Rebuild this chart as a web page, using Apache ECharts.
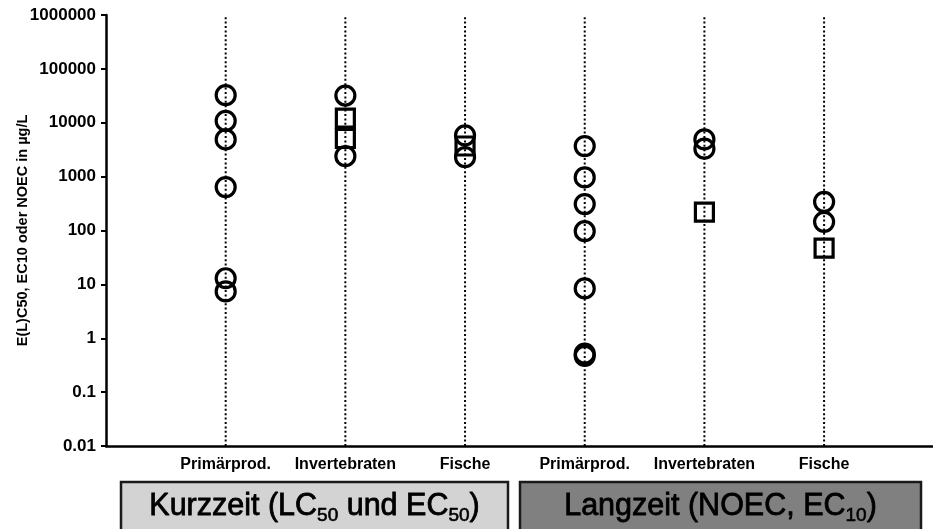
<!DOCTYPE html>
<html><head><meta charset="utf-8">
<script src="https://cdn.jsdelivr.net/npm/echarts@6/dist/echarts.min.js"></script>
<style>html,body{margin:0;padding:0;background:#fff}#c{width:933px;height:529px}</style>
</head><body><div id="c"></div>
<script>
const categories = ['Primärprod.', 'Invertebraten', 'Fische', 'Primärprod.', 'Invertebraten', 'Fische'];
const circleValues = [
  [32500, 10800, 4900, 640, 13, 7.4],
  [32000, 2400],
  [5850, 2300],
  [3690, 967, 309, 97, 8.4, 0.47, 0.52],
  [4900, 3300],
  [340, 145]
];
const squareValues = [[], [12200, 5100], [3700], [], [220], [47]];
const yTickLabels = ['0.01', '0.1', '1', '10', '100', '1000', '10000', '100000', '1000000'];
const groupLabels = ['Kurzzeit (LC{sub|50} und EC{sub|50})', 'Langzeit (NOEC, EC{sub|10})'];
const yMin = 0.01, yMax = 1000000;
const yTitle = 'E(L)C50, EC10 oder NOEC in µg/L';

const FONT = 'Liberation Sans, Arial, sans-serif';
const circleData = [];
circleValues.forEach((arr, i) => arr.forEach(v => circleData.push([i + 1, v])));
const squareData = [];
squareValues.forEach((arr, i) => arr.forEach(v => squareData.push([i + 1, v])));

const series = [];
categories.forEach((c, i) => {
  series.push({
    type: 'line', silent: true, symbol: 'none',
    data: [[i + 1, yMin], [i + 1, yMax]],
    lineStyle: { color: '#000', width: 2, type: [2, 2.4] },
    z: 1
  });
});
series.push({
  type: 'scatter', symbol: 'circle', symbolSize: 19, data: circleData,
  itemStyle: { color: 'rgba(0,0,0,0)', borderColor: '#000', borderWidth: 3.2, opacity: 1 }, z: 3
});
series.push({
  type: 'scatter', symbol: 'rect', symbolSize: 18, data: squareData,
  itemStyle: { color: 'rgba(0,0,0,0)', borderColor: '#000', borderWidth: 3.2, opacity: 1 }, z: 3
});

const richSub = { sub: { fontSize: 19, lineHeight: 20, verticalAlign: 'bottom', fontFamily: FONT, fill: '#000', stroke: '#000', lineWidth: 0.6 } };

const chart = echarts.init(document.getElementById('c'), null, { renderer: 'canvas' });
chart.setOption({
  animation: false,
  backgroundColor: '#fff',
  grid: { left: 106, right: 0, top: 15, bottom: 83, containLabel: false },
  xAxis: {
    type: 'value', min: 0, max: 6.91, interval: 1,
    axisLine: { show: true, onZero: false, lineStyle: { color: '#000', width: 2.5 } },
    axisTick: { show: false },
    splitLine: { show: false },
    axisLabel: {
      showMaxLabel: false,
      formatter: v => (Number.isInteger(v) && v >= 1 && v <= categories.length) ? categories[v - 1] : '',
      color: '#000', fontWeight: 'bold', fontSize: 16, fontFamily: FONT, margin: 11
    }
  },
  yAxis: {
    type: 'log', logBase: 10, min: yMin, max: yMax, interval: 1,
    name: yTitle, nameLocation: 'middle', nameGap: 76, nameMoveOverlap: false,
    nameTextStyle: { color: '#000', fontWeight: 'bold', fontSize: 14.5, fontFamily: FONT },
    axisLine: { show: true, lineStyle: { color: '#000', width: 2.5 } },
    axisTick: { show: true, length: 5, lineStyle: { color: '#000', width: 2 } },
    splitLine: { show: false },
    axisLabel: {
      formatter: v => yTickLabels[Math.round(Math.log10(v)) + 2],
      color: '#000', fontWeight: 'bold', fontSize: 17, fontFamily: FONT, margin: 10
    }
  },
  graphic: [
    { type: 'rect', shape: { x: 121, y: 482, width: 387, height: 60 },
      style: { fill: '#d3d3d3', stroke: '#1a1a1a', lineWidth: 2.5 }, z: 10 },
    { type: 'text', x: 314.5, y: 507, z: 11,
      style: { text: groupLabels[0], fontSize: 30.5, fontFamily: FONT, fill: '#000', stroke: '#000', lineWidth: 0.8,
        align: 'center', verticalAlign: 'middle', lineHeight: 36, rich: richSub } },
    { type: 'rect', shape: { x: 520, y: 482, width: 401, height: 60 },
      style: { fill: '#808080', stroke: '#1a1a1a', lineWidth: 2.5 }, z: 10 },
    { type: 'text', x: 720.5, y: 507, z: 11,
      style: { text: groupLabels[1], fontSize: 30.5, fontFamily: FONT, fill: '#000', stroke: '#000', lineWidth: 0.8,
        align: 'center', verticalAlign: 'middle', lineHeight: 36, rich: richSub } }
  ],
  series: series
});
</script>
</body></html>
